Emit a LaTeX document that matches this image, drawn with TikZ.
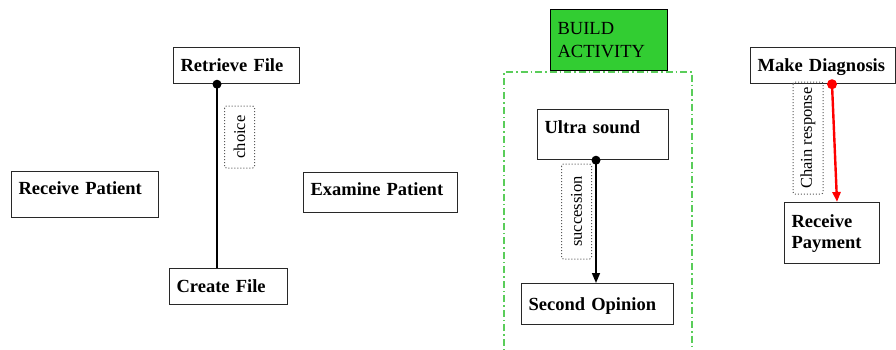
\documentclass[tikz,border=0pt]{standalone}
\usepackage{fontspec}
\setmainfont{Liberation Serif}
\usetikzlibrary{arrows.meta}
\definecolor{buildgreen}{RGB}{50,205,50}
\definecolor{dashgreen}{RGB}{90,205,90}
\definecolor{boxline}{RGB}{40,40,40}
\begin{document}
\begin{tikzpicture}[x=1pt,y=-1pt,
  box/.style={draw=boxline, line width=1.2pt, fill=white, anchor=north west,
    font=\bfseries\fontsize{18.5}{21}\selectfont, align=left,
    inner xsep=7pt, inner ysep=0pt},
  one/.style={text height=13pt, text depth=#1},
  lab/.style={draw=black!65, dotted, line width=1pt, rounded corners=2pt, rotate=90,
    font=\fontsize{16.5}{18}\selectfont, inner sep=0pt, minimum height=30pt},
  conn/.style={line width=1.6pt, black},
  dotstart/.style={-{Triangle[length=10pt,width=8pt]}},
]
\fill[white] (0,0) rectangle (896,349);
\useasboundingbox (0,0) rectangle (896,349);

% Left group
\node[box, one=1pt, minimum width=126pt, minimum height=36pt, text width=112pt] (rf) at (173,47) {Retrieve File};
\node[box, one=13pt, minimum width=147pt, minimum height=46pt, text width=133pt] (rcp) at (11,171) {Receive Patient};
\node[box, one=7pt, minimum width=154pt, minimum height=40pt, text width=140pt] (ep) at (303,172) {Examine Patient};
\node[box, one=1pt, minimum width=118pt, minimum height=36pt, text width=104pt] (cf) at (169,268) {Create File};

\draw[conn] ([xshift=44pt]rf.south west) -- ([xshift=48pt]cf.north west);
\fill ([xshift=44pt]rf.south west) circle (4.5pt);
\node[lab, minimum width=62pt] (lchoice) at (239.5,137) {choice};

% Build activity
\draw[dashgreen, line width=1.3pt, dash pattern=on 7pt off 3pt on 1.5pt off 3pt] (504,360) -- (504,72) -- (692,72) -- (692,360);
\node[box, draw=black, fill=buildgreen, font=\fontsize{18.5}{23}\selectfont, text height=13pt, minimum width=117pt, minimum height=61pt, text width=103pt] (build) at (550,9) {BUILD\\ACTIVITY};

\node[box, one=15pt, minimum width=131pt, minimum height=50pt, text width=117pt] (us) at (537,109) {Ultra sound};
\node[box, one=1pt, minimum width=152pt, minimum height=41pt, text width=138pt] (so) at (521,283) {Second Opinion};

\draw[conn, dotstart] ([xshift=59pt]us.south west) -- ([xshift=75pt]so.north west);
\fill ([xshift=59pt]us.south west) circle (4.5pt);
\node[lab, minimum width=95pt] (lsucc) at (576.5,211.5) {succession};

% Right group
\node[box, one=1pt, minimum width=145pt, minimum height=36pt, text width=131pt] (md) at (750,47) {Make Diagnosis};
\node[box, text height=13pt, minimum width=95pt, minimum height=61pt, text width=81pt] (pay) at (784,202) {Receive\\Payment};

\draw[line width=2.4pt, red, -{Triangle[length=10pt,width=8pt]}] ([xshift=82pt]md.south west) -- ([xshift=53pt]pay.north west);
\fill[red] ([xshift=82pt]md.south west) circle (5pt);
\node[lab, minimum width=112pt] (lchain) at (808,138) {Chain response};
\end{tikzpicture}
\end{document}
